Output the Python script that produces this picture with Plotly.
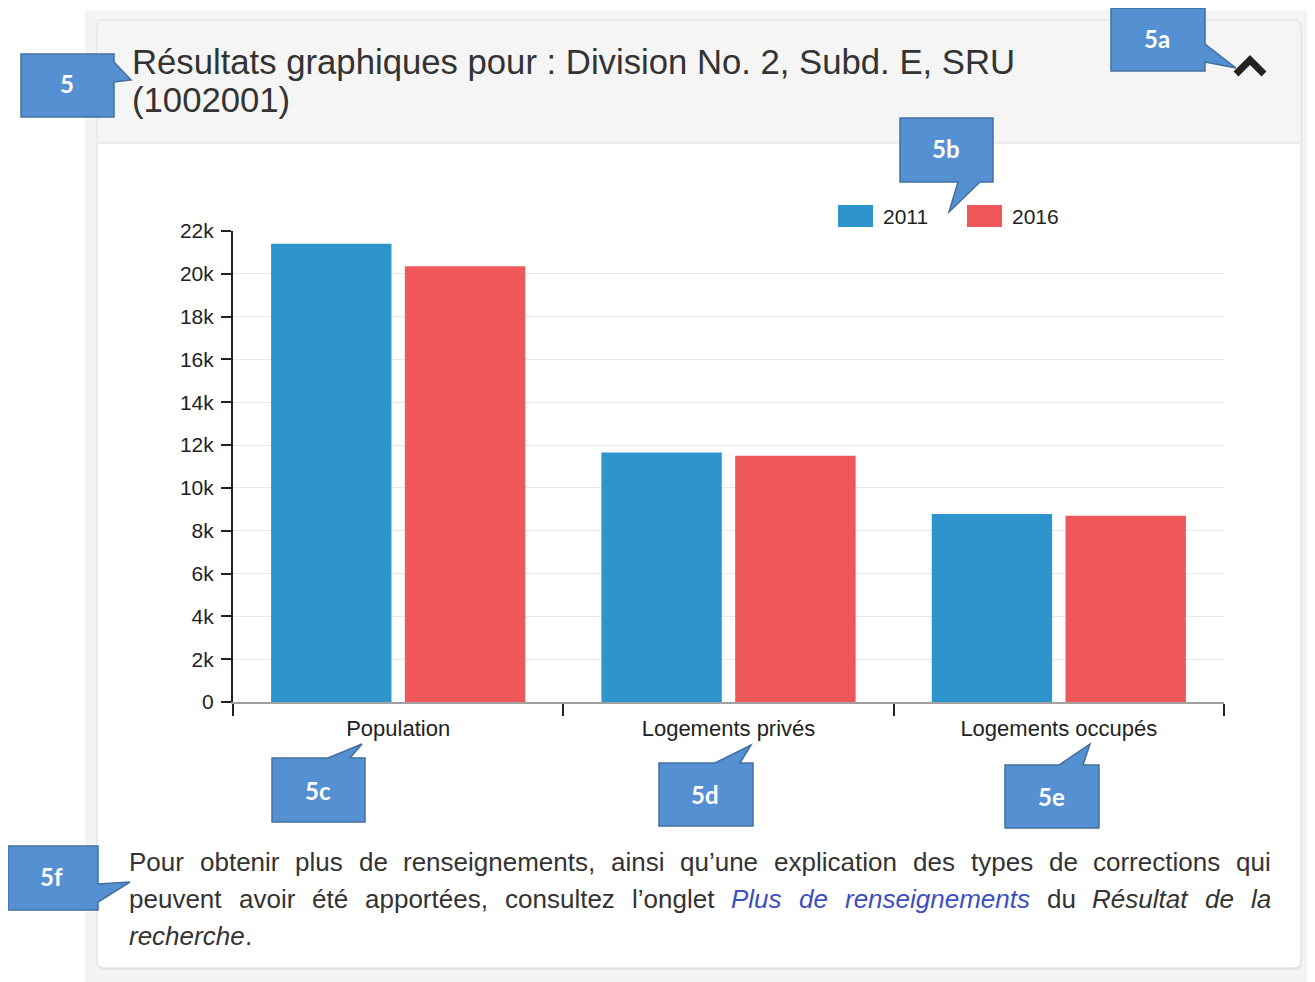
import plotly.graph_objects as go

# ---------------- data ----------------
categories = ["Population", "Logements privés", "Logements occupés"]
series_names = ["2011", "2016"]
values_2011 = [21400, 11650, 8780]
values_2016 = [20350, 11500, 8700]
series_colors = ["#2e94cc", "#ef575a"]
y_tick_vals = [0, 2000, 4000, 6000, 8000, 10000, 12000, 14000, 16000, 18000, 20000, 22000]
y_tick_text = ["0", "2k", "4k", "6k", "8k", "10k", "12k", "14k", "16k", "18k", "20k", "22k"]

title_line1 = "Résultats graphiques pour : Division No. 2, Subd. E, SRU"
title_line2 = "(1002001)"

FONT = "Liberation Sans, Arial, sans-serif"
# page body has an 8px margin: figure is drawn from (8, 8) to (1315, 982)
BODY = 8
W, H = 1315 - BODY, 982 - BODY
L, R, T, B = 233, 1224, 231, 702   # plot area in window pixels


def px(x):
    return (x - L) / (R - L)


def py(y):
    return (B - y) / (B - T)


fig = go.Figure()
for name, vals, col in zip(series_names, [values_2011, values_2016], series_colors):
    fig.add_trace(go.Bar(x=categories, y=vals, name=name, marker=dict(color=col, line=dict(width=0)),
                         showlegend=False))

shapes = []
annotations = []

# outer grey background and card
shapes.append(dict(type="rect", xref="paper", yref="paper", x0=px(85), x1=px(1316), y0=py(10), y1=py(983),
                   fillcolor="#f3f4f4", line=dict(width=0), layer="below"))


def rounded_rect(x0, y0, x1, y1, r, top_only=False):
    p = f"M{px(x0)},{py(y0 + r)} Q{px(x0)},{py(y0)} {px(x0 + r)},{py(y0)} "
    p += f"L{px(x1 - r)},{py(y0)} Q{px(x1)},{py(y0)} {px(x1)},{py(y0 + r)} "
    if top_only:
        p += f"L{px(x1)},{py(y1)} L{px(x0)},{py(y1)} Z"
    else:
        p += f"L{px(x1)},{py(y1 - r)} Q{px(x1)},{py(y1)} {px(x1 - r)},{py(y1)} "
        p += f"L{px(x0 + r)},{py(y1)} Q{px(x0)},{py(y1)} {px(x0)},{py(y1 - r)} Z"
    return p


shapes.append(dict(type="path", xref="paper", yref="paper", path=rounded_rect(98, 22, 1302, 970, 7),
                   fillcolor="#e4e4e4", line=dict(width=0), layer="below"))
shapes.append(dict(type="path", xref="paper", yref="paper", path=rounded_rect(97, 20, 1301, 968, 7),
                   fillcolor="#ffffff", line=dict(color="#dcdcdc", width=1), layer="below"))
shapes.append(dict(type="path", xref="paper", yref="paper", path=rounded_rect(98, 21, 1300, 143, 6, top_only=True),
                   fillcolor="#f5f5f5", line=dict(width=0), layer="below"))
shapes.append(dict(type="line", xref="paper", yref="paper", x0=px(98), x1=px(1300), y0=py(143), y1=py(143),
                   line=dict(color="#dedede", width=1.2), layer="below"))

# title
for txt, ty in [(title_line1, 62), (title_line2, 100)]:
    annotations.append(dict(text=txt, x=px(130), y=py(ty), xref="paper", yref="paper", showarrow=False,
                            xanchor="left", yanchor="middle", font=dict(family=FONT, size=34.7, color="#333333")))

# chevron
shapes.append(dict(type="path", xref="paper", yref="paper",
                   path=f"M{px(1236)},{py(74)} L{px(1250)},{py(60)} L{px(1264)},{py(74)}",
                   line=dict(color="#222222", width=7), layer="above"))

# custom legend
leg_x = [838, 967]
for name, col, lx in zip(series_names, series_colors, leg_x):
    shapes.append(dict(type="rect", xref="paper", yref="paper", x0=px(lx), x1=px(lx + 35), y0=py(205), y1=py(227),
                       fillcolor=col, line=dict(width=0), layer="above"))
    annotations.append(dict(text=name, x=px(lx + 43), y=py(216), xref="paper", yref="paper", showarrow=False,
                            xanchor="left", yanchor="middle", font=dict(family=FONT, size=21, color="#222222")))

# callouts
callouts = [
    ("5", [(21, 54), (114, 54), (114, 62), (131, 80), (114, 82), (114, 117), (21, 117)], (67, 83)),
    ("5a", [(1111, 8), (1205, 8), (1205, 44), (1236, 68), (1205, 62), (1205, 71), (1111, 71)], (1157, 38)),
    ("5b", [(900, 118), (993, 118), (993, 182), (980, 182), (949, 212), (958, 182), (900, 182)], (946, 148)),
    ("5c", [(272, 758), (328, 758), (362, 744), (350, 758), (365, 758), (365, 822), (272, 822)], (318, 790)),
    ("5d", [(659, 763), (715, 763), (751, 745), (740, 763), (753, 763), (753, 826), (659, 826)], (705, 794)),
    ("5e", [(1005, 765), (1059, 765), (1090, 744), (1083, 765), (1099, 765), (1099, 828), (1005, 828)], (1051, 796)),
    ("5f", [(8, 846), (98, 846), (98, 884), (130, 882), (98, 902), (98, 910), (8, 910)], (51, 876)),
]
for label, pts, (cx, cy) in callouts:
    path = "M" + " L".join(f"{px(x)},{py(y)}" for x, y in pts) + " Z"
    shapes.append(dict(type="path", xref="paper", yref="paper", path=path, fillcolor="#5590d3",
                       line=dict(color="#41709f", width=1.5), layer="above"))
    annotations.append(dict(text=f"<b>{label}</b>", x=px(cx), y=py(cy), xref="paper", yref="paper",
                            showarrow=False, xanchor="center", yanchor="middle",
                            font=dict(family="Lato, Open Sans, sans-serif", size=24, color="#ffffff")))

# footnote: justified paragraph (Arial / Liberation Sans advance widths, 1/1000 em)
ARIAL = {' ': 278, ',': 278, '.': 278, '’': 222, 'a': 556, 'b': 556, 'c': 500, 'd': 556, 'e': 556,
         'f': 278, 'g': 556, 'h': 556, 'i': 222, 'j': 222, 'k': 500, 'l': 222, 'm': 833, 'n': 556,
         'o': 556, 'p': 556, 'q': 556, 'r': 333, 's': 500, 't': 278, 'u': 556, 'v': 500, 'w': 722,
         'x': 500, 'y': 500, 'z': 500, 'é': 556, 'P': 667, 'R': 722}
FOOT_SIZE = 26
FOOT_X0, FOOT_X1 = 128, 1270
foot_lines = [
    (862, [("Pour", ""), ("obtenir", ""), ("plus", ""), ("de", ""), ("renseignements,", ""), ("ainsi", ""),
           ("qu’une", ""), ("explication", ""), ("des", ""), ("types", ""), ("de", ""),
           ("corrections", ""), ("qui", "")], True),
    (899, [("peuvent", ""), ("avoir", ""), ("été", ""), ("apportées,", ""), ("consultez", ""),
           ("l’onglet", ""), ("Plus", "link"), ("de", "link"), ("renseignements", "link"),
           ("du", ""), ("Résultat", "it"), ("de", "it"), ("la", "it")], True),
    (936, [("recherche", "it"), (".", "")], False),
]


def text_width(s):
    return sum(ARIAL.get(ch, 556) for ch in s) * FOOT_SIZE / 1000.0


for yy, words, justify in foot_lines:
    widths = [text_width(w) for w, _ in words]
    if justify:
        gap = (FOOT_X1 - FOOT_X0 - sum(widths)) / (len(words) - 1)
    else:
        gap = 0
    x = FOOT_X0
    for (w, style), wd in zip(words, widths):
        col = "#3d4fbf" if style == "link" else "#333333"
        txt = f"<i>{w}</i>" if style in ("link", "it") else w
        annotations.append(dict(text=txt, x=px(x), y=py(yy), xref="paper", yref="paper", showarrow=False,
                                xanchor="left", yanchor="middle", borderpad=0,
                                font=dict(family=FONT, size=FOOT_SIZE, color=col)))
        x += wd + gap

fig.update_layout(
    width=W, height=H,
    margin=dict(l=L - BODY, r=1315 - R, t=T - BODY, b=982 - B, pad=0),
    paper_bgcolor="#ffffff",
    plot_bgcolor="rgba(0,0,0,0)",
    barmode="group",
    bargap=0.19,
    bargroupgap=0.1,
    font=dict(family=FONT, color="#333333"),
    shapes=shapes,
    annotations=annotations,
    showlegend=False,
    xaxis=dict(showline=True, linecolor="#a0a0a0", linewidth=1.5, ticks="outside", tickson="boundaries",
               ticklen=12, tickwidth=2, tickcolor="#222222", showgrid=False, zeroline=False,
               ticklabelstandoff=6,
               tickfont=dict(family=FONT, size=22, color="#222222"), fixedrange=True),
    yaxis=dict(range=[0, 22000], tickvals=y_tick_vals, ticktext=y_tick_text, showline=True,
               linecolor="#222222", linewidth=2, ticks="outside", ticklen=10, tickwidth=2,
               tickcolor="#222222", showgrid=True, gridcolor="#e8e8e8", gridwidth=1, zeroline=False,
               ticklabelstandoff=3,
               tickfont=dict(family=FONT, size=21, color="#222222"), fixedrange=True),
)

fig.write_html("out.html")
